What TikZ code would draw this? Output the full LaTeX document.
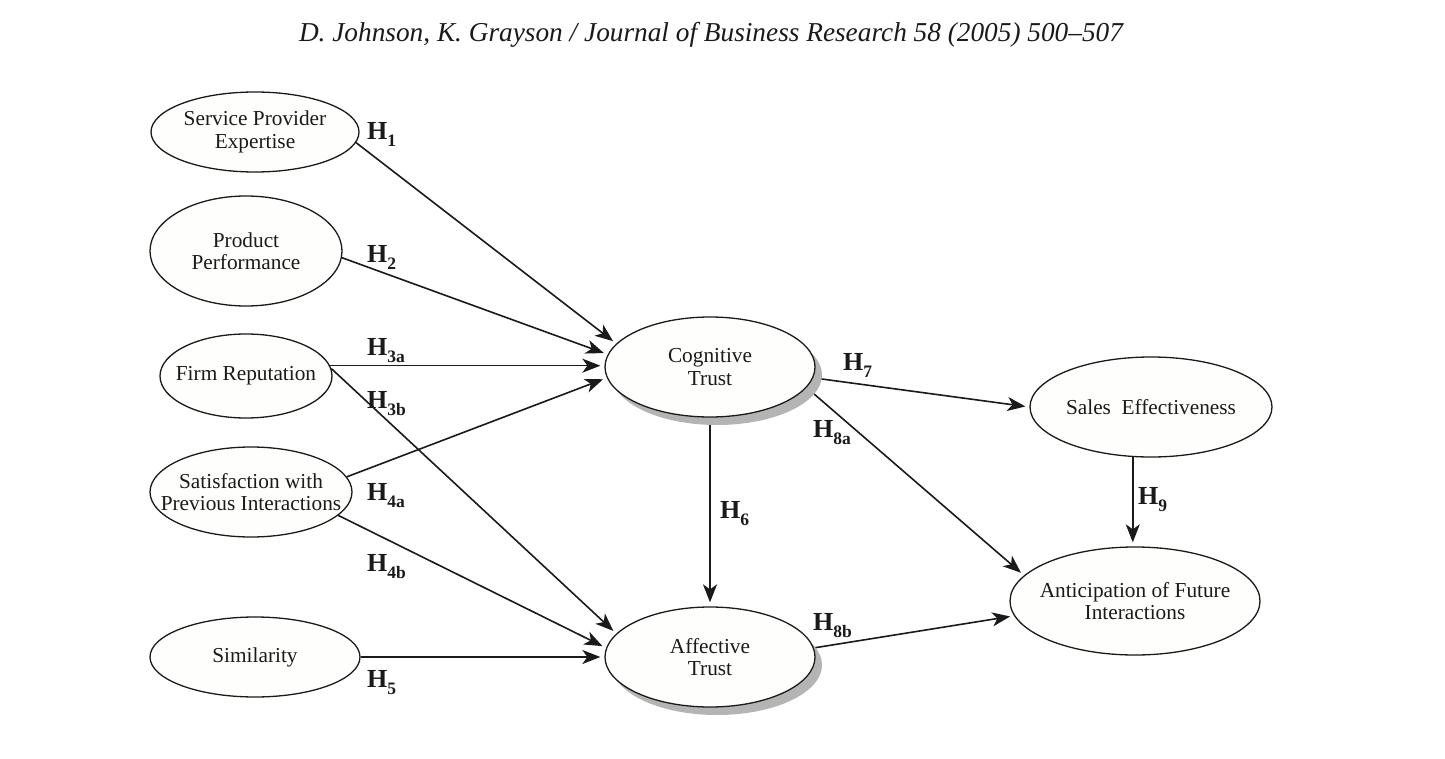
\documentclass[tikz,border=0pt]{standalone}
\usepackage{fontspec}
\setmainfont{Liberation Serif}
\usetikzlibrary{shapes.geometric,arrows.meta,shadows}
\pgfdeclarelayer{bg}
\pgfsetlayers{bg,main}
\definecolor{ellfill}{HTML}{FEFEFC}
\definecolor{shadowgray}{HTML}{B4B4B4}
\definecolor{ink}{HTML}{1A1A1A}
\newcommand\hyplab[1]{H\raisebox{-7pt}{\fontsize{17.5}{17.5}\selectfont\bfseries #1}}
\begin{document}
\begin{tikzpicture}[x=1pt,y=-1pt,
  ell/.style={ellipse, draw=ink, line width=1.3pt, fill=ellfill, inner sep=0pt},
  shell/.style={ell, drop shadow={shadow xshift=7pt, shadow yshift=-8pt, fill=shadowgray, opacity=1}},
  txt/.style={align=center, font=\fontsize{21.3}{22.5}\selectfont, text=ink, inner sep=0pt},
  hl/.style={anchor=base west, inner sep=0pt, font=\fontsize{26}{26}\selectfont\bfseries, text=ink},
  arr/.style={-{Stealth[length=18pt,width=14pt,inset=5pt]}, line width=1.6pt, draw=ink, shorten >=4pt},
]
\useasboundingbox (0,0) rectangle (1445,759);
\begin{pgfonlayer}{bg}
\fill[white] (0,0) rectangle (1445,759);
\end{pgfonlayer}

% header
\node[anchor=base, inner sep=0pt, font=\fontsize{27.3}{27.3}\selectfont\itshape, text=ink] (hdr) at (711,42)
  {D. Johnson, K. Grayson / Journal of Business Research 58 (2005) 500–507};

% ellipses
\node[ell, minimum width=208pt, minimum height=80pt] (spe) at (255,132) {};
\node[ell, minimum width=192pt, minimum height=110pt] (pp) at (246,251) {};
\node[ell, minimum width=172pt, minimum height=84pt] (fr) at (246,376) {};
\node[ell, minimum width=202pt, minimum height=90pt] (spi) at (251,492) {};
\node[ell, minimum width=210pt, minimum height=80pt] (sim) at (255,657) {};
\node[shell, minimum width=210pt, minimum height=100pt] (ct) at (710,367) {};
\node[shell, minimum width=210pt, minimum height=100pt] (at) at (710,657) {};
\node[ell, minimum width=242pt, minimum height=100pt] (se) at (1151,407) {};
\node[ell, minimum width=250pt, minimum height=108pt] (afi) at (1135,601) {};

% texts
\node[txt] (spe-t) at (spe) {Service Provider\\Expertise};
\node[txt] (pp-t) at (pp) {Product\\Performance};
\node[txt] (fr-t) at (fr) {Firm Reputation};
\node[txt] (spi-t) at (spi) {Satisfaction with\\Previous Interactions};
\node[txt] (sim-t) at (sim) {Similarity};
\node[txt] (ct-t) at (ct) {Cognitive\\Trust};
\node[txt] (at-t) at (at) {Affective\\Trust};
\node[txt] (se-t) at (se) {Sales~~Effectiveness};
\node[txt] (afi-t) at (afi) {Anticipation of Future\\Interactions};

% connectors
\begin{pgfonlayer}{bg}
\draw[arr] (spe.-6) -- (ct.166);
\draw[arr] (pp.-4) -- (ct.173);
\draw[arr] (fr.7) -- (fr.7 -| ct.west);
\draw[arr] (fr.5) -- (at.166);
\draw[arr] (spi.9) -- (ct.186);
\draw[arr] (spi.-15) -- (at.175);
\draw[arr] (sim.east) -- (at.west);
\draw[arr] (ct.south) -- (at.north);
\draw[arr] (ct.-6) -- (se.west);
\draw[arr] (ct.-12) -- (afi.167);
\draw[arr] (at.5) -- (afi.187);
\draw[arr] (se.-110) -- (se.-110 |- afi.north);
\end{pgfonlayer}

% hypothesis labels
\node[hl] (h1) at (367,140) {\hyplab{1}};
\node[hl] (h2) at (367,263) {\hyplab{2}};
\node[hl] (h3a) at (367,355) {\hyplab{3a}};
\node[hl] (h3b) at (367,408) {\hyplab{3b}};
\node[hl] (h4a) at (367,500) {\hyplab{4a}};
\node[hl] (h4b) at (367,571) {\hyplab{4b}};
\node[hl] (h5) at (367,687) {\hyplab{5}};
\node[hl] (h6) at (720,518) {\hyplab{6}};
\node[hl] (h7) at (843,370) {\hyplab{7}};
\node[hl] (h8a) at (813,437) {\hyplab{8a}};
\node[hl] (h8b) at (813,630) {\hyplab{8b}};
\node[hl] (h9) at (1138,504) {\hyplab{9}};
\end{tikzpicture}
\end{document}
